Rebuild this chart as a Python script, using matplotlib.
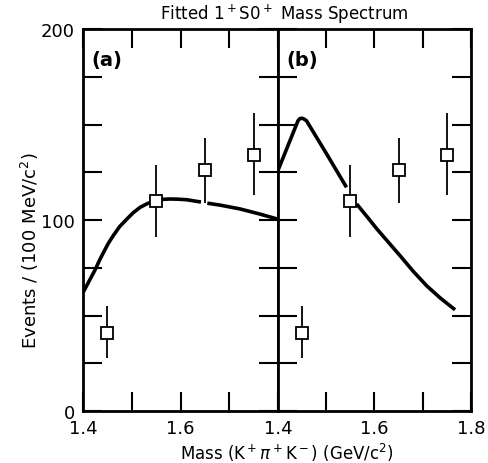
import numpy as np
import matplotlib.pyplot as plt
from matplotlib.ticker import FixedLocator, FuncFormatter

# measured points (same bins in both panels)
mass = [1.45, 1.55, 1.65, 1.75]
events = [41, 110, 126, 134]
err_lo = [13, 19, 17, 21]
err_hi = [14, 19, 17, 22]

# fitted curve, panel (a)
fit_a_x = [1.40, 1.425, 1.434, 1.442, 1.452, 1.462, 1.475, 1.49, 1.503, 1.517,
           1.532, 1.548, 1.563, 1.578, 1.595, 1.613, 1.642,
           1.655, 1.681, 1.722, 1.763, 1.80]
fit_a_y = [62, 74, 79, 83, 87.8, 91.8, 96.5, 100.5, 103.8, 106.6,
           108.6, 110.1, 110.8, 111, 110.9, 110.6, 109.4,
           108.8, 107.8, 105.8, 103.1, 100.4]

# fitted curve, panel (b)
fit_b_x = [1.40, 1.4415, 1.445, 1.449, 1.453, 1.459, 1.501, 1.542,
           1.563, 1.585, 1.605, 1.630, 1.653, 1.680, 1.708, 1.737, 1.767]
fit_b_y = [126, 152, 153, 153.3, 153, 152, 134.5, 117.1,
           108.4, 101.6, 95.3, 88, 81.3, 73.2, 65.6, 59.0, 53.0]

plt.rcParams['font.family'] = 'DejaVu Sans'

fig = plt.figure(figsize=(4.89, 4.64), dpi=100)
ax_a = fig.add_axes([83 / 489, 52 / 464, 195 / 489, 382 / 464])
ax_b = fig.add_axes([278 / 489, 52 / 464, 193 / 489, 382 / 464])


def draw_panel(ax, fx, fy, gap, label, xlabels, ylabels):
    fx = np.array(fx, dtype=float)
    fy = np.array(fy, dtype=float)
    # break the curve where it passes the data point
    lo, hi = gap
    left = fx <= lo
    right = fx >= hi
    ax.plot(fx[left], fy[left], color='black', lw=2.6, solid_capstyle='butt')
    ax.plot(fx[right], fy[right], color='black', lw=2.6, solid_capstyle='butt')

    ax.errorbar(mass, events, yerr=[err_lo, err_hi], fmt='s', color='black',
                mfc='white', mec='black', ms=8, mew=1.3, elinewidth=1.3,
                capsize=0, zorder=3)

    ax.set_xlim(1.4, 1.8)
    ax.set_ylim(0, 200)
    ax.xaxis.set_major_locator(FixedLocator([1.4, 1.5, 1.6, 1.7, 1.8]))
    ax.yaxis.set_major_locator(FixedLocator(np.arange(0, 201, 25)))
    ax.xaxis.set_major_formatter(FuncFormatter(
        lambda v, p: f'{v:.1f}' if round(v, 2) in xlabels else ''))
    ax.yaxis.set_major_formatter(FuncFormatter(
        lambda v, p: f'{v:.0f}' if round(v) in ylabels else ''))
    ax.tick_params(direction='in', length=14, width=1.5, top=True, right=True,
                   labelsize=13, pad=6)
    for s in ax.spines.values():
        s.set_linewidth(2)
    ax.text(0.045, 0.92, label, transform=ax.transAxes, fontsize=14,
            fontweight='bold', va='center', ha='left')


draw_panel(ax_a, fit_a_x, fit_a_y, (1.642, 1.655), '(a)', [1.4, 1.6], [0, 100, 200])
draw_panel(ax_b, fit_b_x, fit_b_y, (1.542, 1.563), '(b)', [1.4, 1.6, 1.8], [])

fig.text(30 / 489, 213 / 464, 'Events / (100 MeV/c$^2$)', fontsize=13,
         rotation=90, ha='center', va='center')
fig.text(287 / 489, 11 / 464, 'Mass (K$^+\\pi^+$K$^-$) (GeV/c$^2$)',
         fontsize=12, ha='center', va='center')
fig.text(284 / 489, 450 / 464, 'Fitted 1$^+$S0$^+$ Mass Spectrum',
         fontsize=12, ha='center', va='center')

fig.savefig('out.png', dpi=100)
